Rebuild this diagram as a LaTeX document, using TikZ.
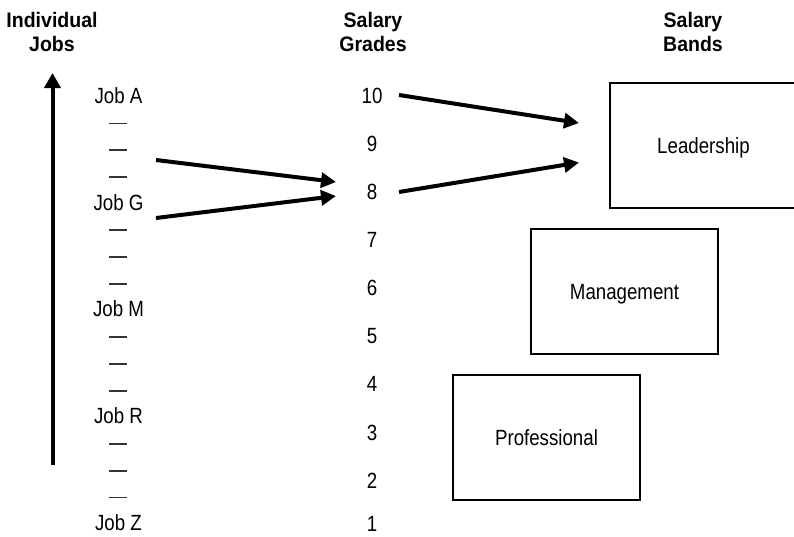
\documentclass[tikz,border=0pt]{standalone}
\usepackage{fontspec}
\setmainfont{Liberation Sans}[FakeStretch=0.85]
\newfontfamily\headfont{Liberation Sans}[FakeStretch=0.93]
\usetikzlibrary{arrows.meta}
\begin{document}
\begin{tikzpicture}[x=1pt,y=-1pt,
  head/.style={font=\headfont\fontsize{21}{24.4}\selectfont\bfseries, align=center, inner sep=0pt},
  lbl/.style={font=\fontsize{22}{24}\selectfont, inner sep=0pt, anchor=base},
  tick/.style={line width=1.8pt, draw=black!80},
  band/.style={draw, line width=2.5pt, font=\fontsize{22}{24}\selectfont,
    text height=15.7pt, text depth=0pt, inner sep=0pt},
  bigarrow/.style={line width=4pt, -{Triangle[length=15pt,width=15pt]}}
]
\useasboundingbox (0,0) rectangle (794,536);
\clip (0,0) rectangle (794,536);

% column headings
\node[head] (hjobs) at (52,32) {Individual\\Jobs};
\node[head] (hgrades) at (373,32) {Salary\\Grades};
\node[head] (hbands) at (693,32) {Salary\\Bands};

% rising scale of jobs
\coordinate (jlow) at (52.5,465);
\coordinate (jtop) at (52.5,73);
\draw[line width=4pt, -{Triangle[length=15pt,width=16pt]}] (jlow) -- (jtop);

% job ladder: named jobs and unnamed steps between them
\foreach \k/\t in {0/A,4/G,8/M,12/R,16/Z}
  \node[lbl] (job\t) at (118.5,{103.3+26.71*\k}) {Job \t};
\foreach \k in {1,2,3,5,6,7,9,10,11,13,14,15}
  \draw[tick] (109,{96.8+26.71*\k}) -- (127,{96.8+26.71*\k});

% salary grades
\foreach \g in {2,...,10}
  \node[lbl] (g\g) at (372,{103.3+(10-\g)*48.1}) {\g};
\node[lbl] (g1) at (372,531.5) {1};

% salary bands
\node[band, minimum width=187pt, minimum height=125pt] (lead) at (703.5,145.5) {Leadership};
\node[band, minimum width=187pt, minimum height=125pt] (mgmt) at (624.5,291.5) {Management};
\node[band, minimum width=187pt, minimum height=125pt] (prof) at (546.5,437.5) {Professional};

% jobs mapped to grade 8
\coordinate (ja) at (156,160);
\coordinate (jb) at (156,218);
\coordinate (ga) at (336,182);
\coordinate (gb) at (336,196);
\draw[bigarrow] (ja) -- (ga);
\draw[bigarrow] (jb) -- (gb);

% grades 8 to 10 mapped to the leadership band
\coordinate (s10) at (399,95);
\coordinate (s8) at (399,192);
\coordinate (la) at (579,123);
\coordinate (lb) at (579,162.5);
\draw[bigarrow] (s10) -- (la);
\draw[bigarrow] (s8) -- (lb);
\end{tikzpicture}
\end{document}
